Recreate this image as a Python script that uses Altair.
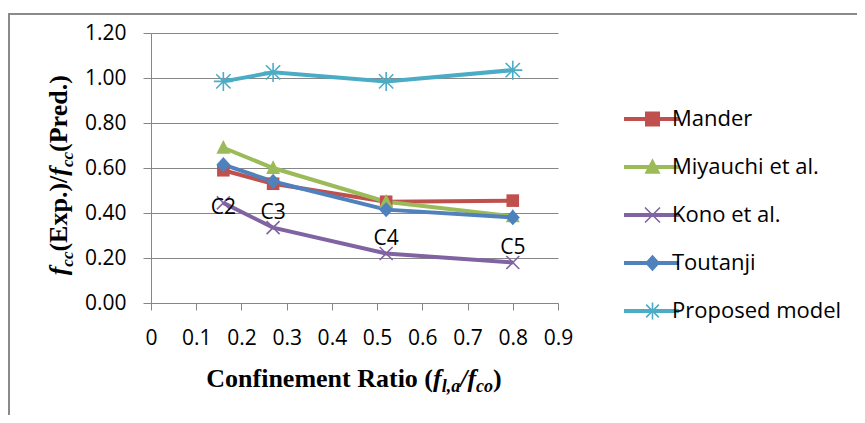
import altair as alt
import pandas as pd

# ---------------- data ----------------
ratio = [0.16, 0.27, 0.52, 0.80]
cases = ["C2", "C3", "C4", "C5"]
series_names = ["Mander", "Miyauchi et al.", "Kono et al.", "Toutanji", "Proposed model"]
mander = [0.59, 0.53, 0.45, 0.455]
miyauchi = [0.69, 0.60, 0.45, 0.385]
kono = [0.445, 0.335, 0.22, 0.18]
toutanji = [0.615, 0.54, 0.415, 0.38]
proposed = [0.985, 1.025, 0.985, 1.035]
x_ticks = [0, 0.1, 0.2, 0.3, 0.4, 0.5, 0.6, 0.7, 0.8, 0.9]
y_ticks = [0.0, 0.2, 0.4, 0.6, 0.8, 1.0, 1.2]
colors = ["#C0504D", "#9BBB59", "#8064A2", "#4F81BD", "#4BACC6"]

# axis titles as (text, italic, subscript) runs
x_title_runs = [("Confinement Ratio (", False, False), ("f", True, False), ("l,a", True, True),
                ("/", True, False), ("f", True, False), ("co", True, True), (")", False, False)]
y_title_runs = [("f", True, False), ("cc", True, True), ("(Exp.)/", False, False),
                ("f", True, False), ("cc", True, True), ("(Pred.)", False, False)]

rows = []
for name, vals in zip(series_names, [mander, miyauchi, kono, toutanji, proposed]):
    for c, xv, v in zip(cases, ratio, vals):
        rows.append({"series": name, "case": c, "ratio": xv, "value": v})
df = pd.DataFrame(rows)
labels_df = pd.DataFrame({"case": cases, "ratio": ratio, "value": kono})


# ---------------- marker paths (pixel units, size=4 -> scale 1) ----------------
def poly(pts):
    area = sum(pts[i][0] * pts[(i + 1) % len(pts)][1] - pts[(i + 1) % len(pts)][0] * pts[i][1]
               for i in range(len(pts)))
    if area < 0:
        pts = pts[::-1]
    return "M" + "L".join(f"{px:.2f},{py:.2f}" for px, py in pts) + "Z"


def rect(x0, y0, x1, y1):
    return poly([(x0, y0), (x1, y0), (x1, y1), (x0, y1)])


def bar(ax, ay, bx, by, w):
    dx, dy = bx - ax, by - ay
    ln = (dx * dx + dy * dy) ** 0.5
    nx, ny = -dy / ln * w, dx / ln * w
    return poly([(ax + nx, ay + ny), (bx + nx, by + ny), (bx - nx, by - ny), (ax - nx, ay - ny)])


def square(cx, h):
    return rect(cx - h, -h, cx + h, h)


def triangle(cx, h):
    return poly([(cx, -h * 1.1), (cx + h, h * 0.85), (cx - h, h * 0.85)])


def diamond(cx, h):
    return poly([(cx, -h * 1.1), (cx + h, 0), (cx, h * 1.1), (cx - h, 0)])


def xmark(cx, h, w):
    return bar(cx - h, -h, cx + h, h, w) + bar(cx + h, -h, cx - h, h, w)


def star(cx, h, w):
    d = h * 0.75
    return (bar(cx, -h, cx, h, w) + bar(cx - d, -d, cx + d, d, w)
            + bar(cx + d, -d, cx - d, d, w) + bar(cx - h, 0, cx + h, 0, w))


marker_paths = [square(0, 6.3), triangle(0, 7), xmark(0, 6.5, 0.8), diamond(0, 7), star(0, 9.5, 0.8)]

lc = 27.5  # marker centre along legend line
line_bar = rect(-1, -2, 54, 2)
legend_paths = [
    line_bar + square(lc, 7.5),
    line_bar + triangle(lc, 8),
    line_bar + xmark(lc, 7.5, 0.8),
    line_bar + diamond(lc, 7.5),
    line_bar + star(lc, 8.5, 0.8),
]

# ---------------- rich axis titles (Times metrics; Liberation Serif is metric compatible) ----------------
W_BOLD = {"C": 722, "o": 500, "n": 556, "f": 333, "i": 278, "e": 444, "m": 833, "t": 333, " ": 250,
          "R": 722, "a": 500, "(": 333, ")": 333, "E": 667, "x": 500, "p": 556, ".": 250, "/": 278,
          "P": 611, "r": 444, "d": 556}
W_BI = {"f": 333, "l": 278, ",": 250, "a": 500, "c": 444, "o": 500, "/": 278}


def run_width(text, italic, size):
    table = W_BI if italic else W_BOLD
    return sum(table.get(ch, 500) for ch in text) * size / 1000.0


one = pd.DataFrame({"k": [0]})


def rich_title(runs, size, sub_size, sub_shift, centre, base, vertical):
    widths = [run_width(t, it, sub_size if sb else size) for t, it, sb in runs]
    total = sum(widths)
    pos = centre - total / 2 if not vertical else centre + total / 2
    layers = []
    for (t, it, sb), w in zip(runs, widths):
        fs = sub_size if sb else size
        if vertical:
            enc = dict(x=alt.value(base + (sub_shift if sb else 0)), y=alt.value(pos))
            angle = 270
            pos -= w
        else:
            enc = dict(x=alt.value(pos), y=alt.value(base + (sub_shift if sb else 0)))
            angle = 0
            pos += w
        layers.append(
            alt.Chart(one).mark_text(
                text=t, font="Liberation Serif", fontSize=fs, fontWeight="bold",
                fontStyle="italic" if it else "normal", align="left", baseline="alphabetic",
                angle=angle, color="black",
            ).encode(**enc)
        )
    return layers


# plot origin is at page (151, 33)
x_title_layers = rich_title(x_title_runs, 26, 18, 4.5, 354 - 151, 387 - 33, False)
y_title_layers = rich_title(y_title_runs, 26, 17, 6, 175 - 33, 67 - 151, True)

# ---------------- encodings ----------------
x_enc = alt.X(
    "ratio:Q",
    scale=alt.Scale(domain=[0, 0.9], nice=False, zero=False),
    axis=alt.Axis(
        values=x_ticks, format="~g", grid=False, title=None,
        labelFont="Open Sans", labelFontSize=21, labelColor="black", labelPadding=17,
        domainColor="#868686", tickColor="#868686", tickSize=7, labelFlush=False,
    ),
)
y_enc = alt.Y(
    "value:Q",
    scale=alt.Scale(domain=[0, 1.2], nice=False),
    axis=alt.Axis(
        values=y_ticks, format=".2f", grid=True, gridColor="#868686", gridWidth=1, title=None,
        labelFont="Open Sans", labelFontSize=21, labelColor="black", labelPadding=17,
        domainColor="#868686", tickColor="#868686", tickSize=8,
    ),
)
color_scale = alt.Scale(domain=series_names, range=colors)

base = alt.Chart(df)

lines = base.mark_line(strokeWidth=4).encode(
    x=x_enc, y=y_enc,
    color=alt.Color("series:N", scale=color_scale, legend=None),
    order=alt.Order("ratio:Q"),
)

points = base.mark_point(filled=True, size=4, opacity=1).encode(
    x=x_enc, y=y_enc,
    color=alt.Color("series:N", scale=color_scale, legend=None),
    shape=alt.Shape("series:N", scale=alt.Scale(domain=series_names, range=marker_paths), legend=None),
)

leg = alt.Legend(
    orient="none", legendX=463, legendY=75, title=None,
    symbolSize=4, symbolStrokeWidth=0, symbolOpacity=1,
    labelFont="Open Sans", labelFontSize=22, labelColor="black",
    labelOffset=36, labelLimit=300, rowPadding=26,
)
legend_layer = base.mark_point(filled=True, size=4, opacity=0).encode(
    x=x_enc, y=y_enc,
    color=alt.Color("series:N", scale=color_scale, legend=leg),
    shape=alt.Shape("series:N", scale=alt.Scale(domain=series_names, range=legend_paths), legend=leg),
)

lab_base = alt.Chart(labels_df)
lab_c2 = lab_base.transform_filter(alt.datum.case == "C2").mark_text(
    font="Open Sans", fontSize=21, color="black", dy=5, baseline="middle"
).encode(x="ratio:Q", y="value:Q", text="case:N")
lab_rest = lab_base.transform_filter(alt.datum.case != "C2").mark_text(
    font="Open Sans", fontSize=21, color="black", dy=-15, baseline="middle"
).encode(x="ratio:Q", y="value:Q", text="case:N")

frame_top = alt.Chart(one).mark_rule(color="#8a8a8a", strokeWidth=2).encode(
    x=alt.value(-142), x2=alt.value(720), y=alt.value(-19), y2=alt.value(-19)
)
frame_left = alt.Chart(one).mark_rule(color="#8a8a8a", strokeWidth=2).encode(
    x=alt.value(-142), x2=alt.value(-142), y=alt.value(-20), y2=alt.value(400)
)

chart = (
    alt.layer(frame_top, frame_left, lines, points, legend_layer, lab_c2, lab_rest,
              *x_title_layers, *y_title_layers)
    .resolve_scale(shape="independent")
    .resolve_legend(color="independent", shape="independent")
    .properties(
        width=407, height=270,
        padding={"left": 143, "top": 25, "right": 299, "bottom": 112},
        autosize=alt.AutoSizeParams(type="none"),
        background="white",
    )
    .configure_view(strokeWidth=0)
)

chart.save("out.html", embed_options={"renderer": "svg", "actions": False})
